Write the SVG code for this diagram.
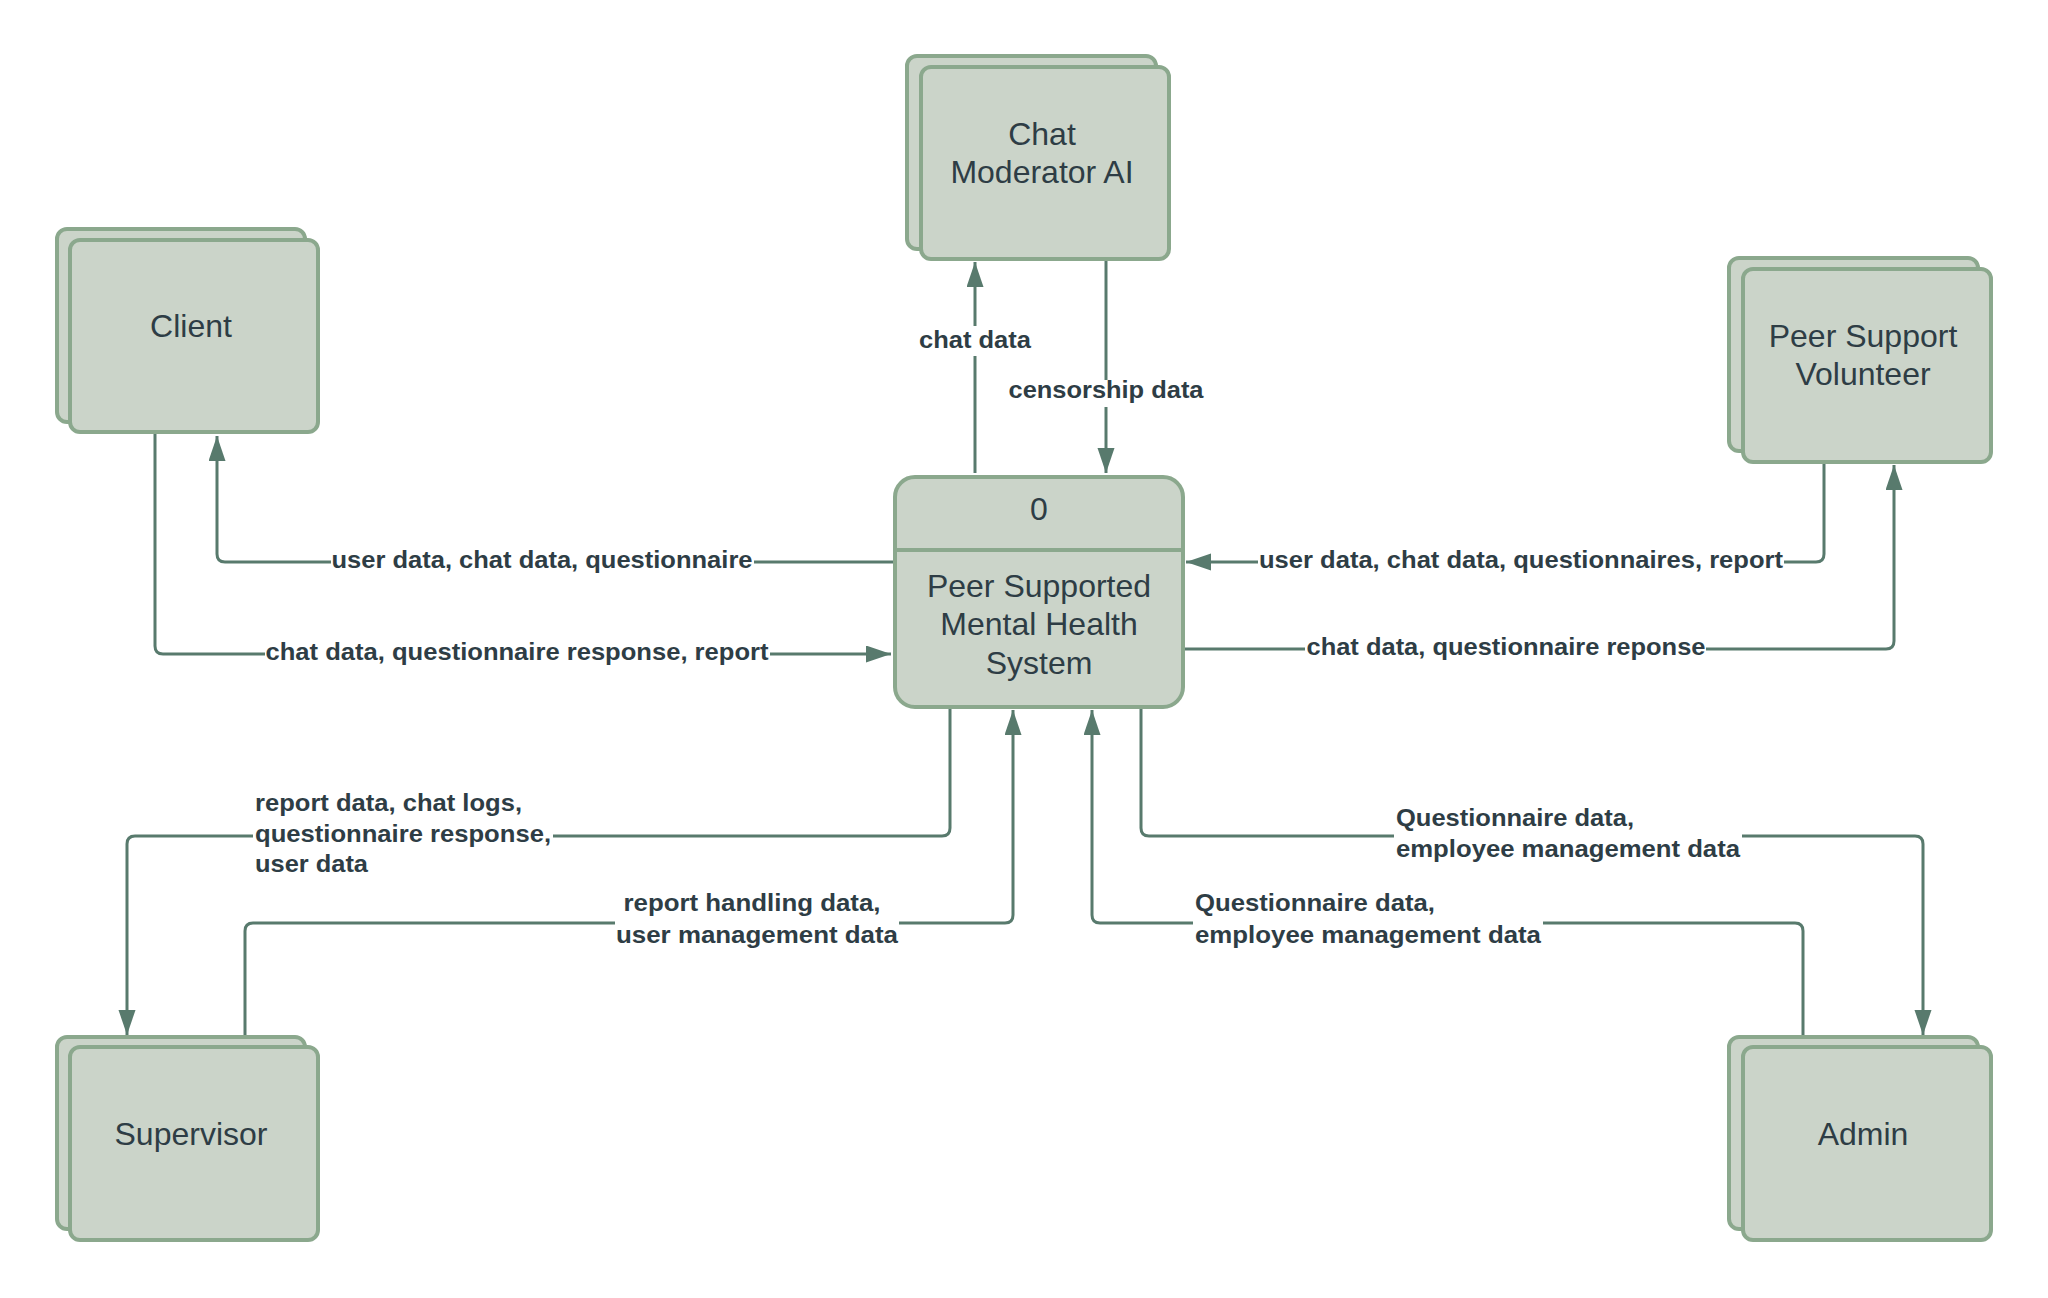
<svg xmlns="http://www.w3.org/2000/svg" width="2048" height="1298" viewBox="0 0 2048 1298">
  <style>
    .box { fill: #cbd4c9; stroke: #8ba88d; stroke-width: 4; }
    .node-text { font-family: "Liberation Sans", Arial, sans-serif; font-size: 32px; fill: #2e3d45; text-anchor: middle; }
    .flow { fill: none; stroke: #587a6d; stroke-width: 3; }
    .label { font-family: "Liberation Sans", Arial, sans-serif; font-size: 24px; font-weight: bold; fill: #2e3d45; }
    .mid { text-anchor: middle; }
    .gap { fill: #ffffff; }
  </style>
  <defs>
    <marker id="arrow" markerUnits="userSpaceOnUse" markerWidth="26" markerHeight="18" refX="25" refY="8.5" orient="auto">
      <path d="M0,0 L25,8.5 L0,17 z" fill="#587a6d"/>
    </marker>
  </defs>
  <rect width="2048" height="1298" fill="#ffffff"/>

  <!-- data flows -->
  <g id="connectors">
    <path class="flow" d="M893 562 H225 Q217 562 217 554 V436" marker-end="url(#arrow)"/>
    <path class="flow" d="M155 434 V646 Q155 654 163 654 H891" marker-end="url(#arrow)"/>
    <path class="flow" d="M975 473 V262" marker-end="url(#arrow)"/>
    <path class="flow" d="M1106 261 V473" marker-end="url(#arrow)"/>
    <path class="flow" d="M1824 464 V554 Q1824 562 1816 562 H1186" marker-end="url(#arrow)"/>
    <path class="flow" d="M1185 649 H1886 Q1894 649 1894 641 V465" marker-end="url(#arrow)"/>
    <path class="flow" d="M950 709 V828 Q950 836 942 836 H135 Q127 836 127 844 V1035" marker-end="url(#arrow)"/>
    <path class="flow" d="M245 1037 V931 Q245 923 253 923 H1005 Q1013 923 1013 915 V710" marker-end="url(#arrow)"/>
    <path class="flow" d="M1141 709 V828 Q1141 836 1149 836 H1915 Q1923 836 1923 844 V1035" marker-end="url(#arrow)"/>
    <path class="flow" d="M1803 1037 V931 Q1803 923 1795 923 H1100 Q1092 923 1092 915 V710" marker-end="url(#arrow)"/>

    <!-- label backgrounds break the lines -->
    <rect class="gap" x="331" y="549" width="423" height="26"/>
    <rect class="gap" x="265" y="641" width="505" height="26"/>
    <rect class="gap" x="917" y="326" width="116" height="30"/>
    <rect class="gap" x="1006" y="380" width="199" height="27"/>
    <rect class="gap" x="1258" y="549" width="526" height="26"/>
    <rect class="gap" x="1305" y="636" width="401" height="26"/>
    <rect class="gap" x="253" y="790" width="300" height="88"/>
    <rect class="gap" x="615" y="888" width="284" height="62"/>
    <rect class="gap" x="1394" y="803" width="348" height="60"/>
    <rect class="gap" x="1193" y="888" width="350" height="62"/>

    <text class="label mid" x="542" y="568" textLength="421" lengthAdjust="spacingAndGlyphs">user data, chat data, questionnaire</text>
    <text class="label mid" x="517" y="660" textLength="503" lengthAdjust="spacingAndGlyphs">chat data, questionnaire response, report</text>
    <text class="label mid" x="975" y="348" textLength="112" lengthAdjust="spacingAndGlyphs">chat data</text>
    <text class="label mid" x="1106" y="398" textLength="195" lengthAdjust="spacingAndGlyphs">censorship data</text>
    <text class="label mid" x="1521" y="568" textLength="524" lengthAdjust="spacingAndGlyphs">user data, chat data, questionnaires, report</text>
    <text class="label mid" x="1506" y="655" textLength="399" lengthAdjust="spacingAndGlyphs">chat data, questionnaire reponse</text>
    <text class="label" x="255" y="811" textLength="267" lengthAdjust="spacingAndGlyphs">report data, chat logs,</text>
    <text class="label" x="255" y="842" textLength="296" lengthAdjust="spacingAndGlyphs">questionnaire response,</text>
    <text class="label" x="255" y="872" textLength="113" lengthAdjust="spacingAndGlyphs">user data</text>
    <text class="label mid" x="752" y="911" textLength="257" lengthAdjust="spacingAndGlyphs">report handling data,</text>
    <text class="label mid" x="757" y="943" textLength="282" lengthAdjust="spacingAndGlyphs">user management data</text>
    <text class="label" x="1396" y="826" textLength="238" lengthAdjust="spacingAndGlyphs">Questionnaire data,</text>
    <text class="label" x="1396" y="857" textLength="344" lengthAdjust="spacingAndGlyphs">employee management data</text>
    <text class="label" x="1195" y="911" textLength="240" lengthAdjust="spacingAndGlyphs">Questionnaire data,</text>
    <text class="label" x="1195" y="943" textLength="346" lengthAdjust="spacingAndGlyphs">employee management data</text>
  </g>

  <!-- external entities -->
  <g id="chat-moderator-ai">
    <rect class="box" x="907" y="56" width="249" height="193" rx="10"/>
    <rect class="box" x="921" y="67" width="248" height="192" rx="10"/>
    <text class="node-text" x="1042" y="145">Chat</text>
    <text class="node-text" x="1042" y="183">Moderator AI</text>
  </g>
  <g id="client">
    <rect class="box" x="57" y="229" width="248" height="193" rx="10"/>
    <rect class="box" x="70" y="240" width="248" height="192" rx="10"/>
    <text class="node-text" x="191" y="337">Client</text>
  </g>
  <g id="peer-support-volunteer">
    <rect class="box" x="1729" y="258" width="249" height="193" rx="10"/>
    <rect class="box" x="1743" y="269" width="248" height="193" rx="10"/>
    <text class="node-text" x="1863" y="347">Peer Support</text>
    <text class="node-text" x="1863" y="385">Volunteer</text>
  </g>
  <g id="supervisor">
    <rect class="box" x="57" y="1037" width="248" height="192" rx="10"/>
    <rect class="box" x="70" y="1047" width="248" height="193" rx="10"/>
    <text class="node-text" x="191" y="1145">Supervisor</text>
  </g>
  <g id="admin">
    <rect class="box" x="1729" y="1037" width="249" height="192" rx="10"/>
    <rect class="box" x="1743" y="1047" width="248" height="193" rx="10"/>
    <text class="node-text" x="1863" y="1145">Admin</text>
  </g>

  <!-- process 0 -->
  <g id="process-0">
    <rect class="box" x="895" y="477" width="288" height="230" rx="20"/>
    <line x1="895" y1="550" x2="1183" y2="550" stroke="#8ba88d" stroke-width="4"/>
    <text class="node-text" x="1039" y="520">0</text>
    <text class="node-text" x="1039" y="597">Peer Supported</text>
    <text class="node-text" x="1039" y="635">Mental Health</text>
    <text class="node-text" x="1039" y="674">System</text>
  </g>
</svg>
